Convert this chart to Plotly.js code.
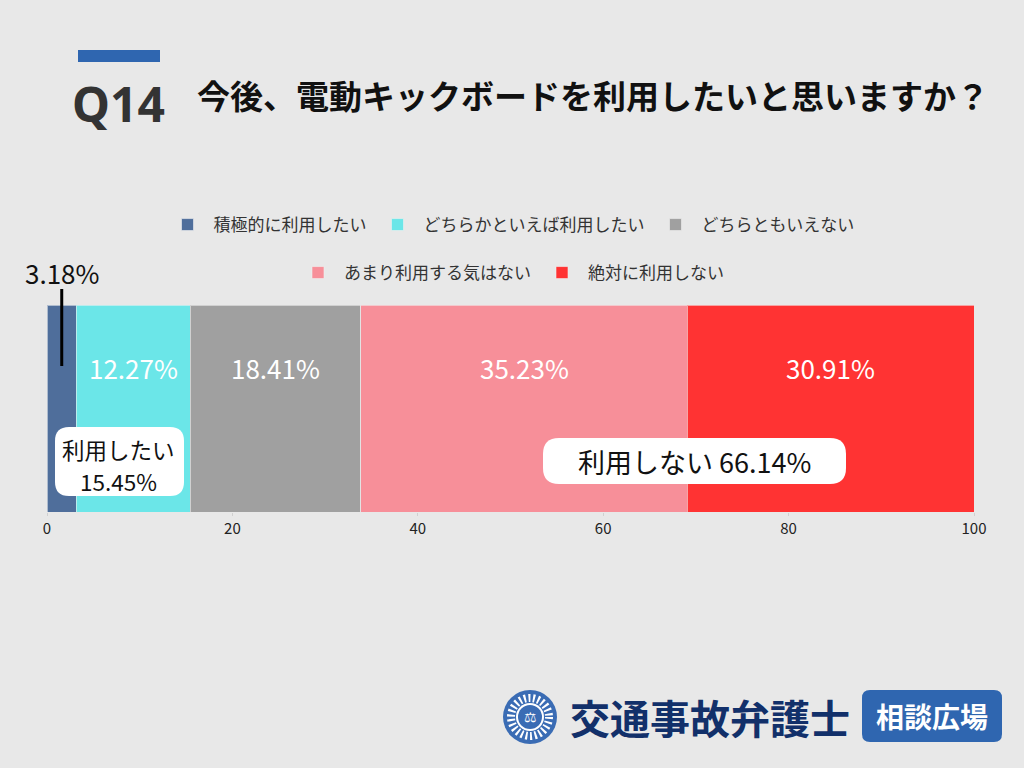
<!DOCTYPE html>
<html>
<head>
<meta charset="utf-8">
<script src="https://cdn.plot.ly/plotly-3.0.1.min.js"></script>
<style>html,body{margin:0;padding:0;background:#e8e8e8;}#chart{width:1024px;height:768px;}</style>
</head>
<body>
<div id="chart"></div>
<script>
// ---- data ----
const categories = ['積極的に利用したい', 'どちらかといえば利用したい', 'どちらともいえない', 'あまり利用する気はない', '絶対に利用しない'];
const values = [3.18, 12.27, 18.41, 35.23, 30.91];
const rowLabel = ['Q14'];
const tickValues = [0, 20, 40, 60, 80, 100];
const questionNo = 'Q14';
const questionText = '今後、電動キックボードを利用したいと思いますか？';
const wantLabel = '利用したい';
const notLabel = '利用しない';
const brandName = '交通事故弁護士';
const brandTag = '相談広場';

// ---- styles ----
const colors = ['#4f6e9b', '#6be6e8', '#a0a0a0', '#f78f99', '#ff3333'];
const FONT = '"Noto Sans CJK JP", "Noto Sans", sans-serif';
const ML = 47, MR = 50, MT = 305, MB = 256, W = 1024, H = 768;
const PW = W - ML - MR, PH = H - MT - MB;
const px = x => (x - ML) / PW;
const py = y => (H - MB - y) / PH;

const traces = categories.map((c, i) => ({
  type: 'bar', orientation: 'h', y: rowLabel, x: [values[i]], name: c,
  marker: {color: colors[i], line: {color: 'rgba(240,240,240,0.6)', width: 1}},
  legend: i < 3 ? 'legend' : 'legend2',
  hoverinfo: 'name+x'
}));

const cum = [];
values.reduce((s, v, i) => { cum[i] = s; return s + v; }, 0);
const wantTotal = (values[0] + values[1]).toFixed(2);
const notTotal = (values[3] + values[4]).toFixed(2);

function ann(o) { return Object.assign({showarrow: false, xanchor: 'center', yanchor: 'middle'}, o); }

const annotations = [];
// value labels inside segments 2..5
for (let i = 1; i < values.length; i++) {
  annotations.push(ann({x: cum[i] + values[i] / 2, y: py(367), xref: 'x', yref: 'paper',
    text: values[i].toFixed(2) + '%',
    font: {family: FONT, size: 26, color: '#ffffff'}}));
}
// first segment label (outside, above)
annotations.push(ann({x: values[0] / 2, y: py(272), xref: 'x', yref: 'paper',
  text: values[0].toFixed(2) + '%',
  font: {family: FONT, size: 26, color: '#111111'}}));
// group boxes
annotations.push(ann({x: px(118), y: py(449), xref: 'paper', yref: 'paper',
  text: wantLabel, font: {family: FONT, size: 22.5, color: '#111111'}}));
annotations.push(ann({x: px(118), y: py(481), xref: 'paper', yref: 'paper',
  text: wantTotal + '%', font: {family: FONT, size: 22.5, color: '#111111'}}));
annotations.push(ann({x: px(694), y: py(461), xref: 'paper', yref: 'paper',
  text: notLabel + ' ' + notTotal + '%',
  font: {family: FONT, size: 27, color: '#111111'}}));
// Q number
annotations.push(ann({x: px(118), y: py(104), xref: 'paper', yref: 'paper',
  text: '<b>' + questionNo + '</b>',
  font: {family: '"Noto Sans", "Open Sans", sans-serif', size: 48, color: '#333333'}}));
// brand
annotations.push(ann({x: px(710), y: py(717), xref: 'paper', yref: 'paper',
  text: '<b>' + brandName + '</b>',
  font: {family: FONT, size: 40, color: '#12306a'}}));
annotations.push(ann({x: px(932), y: py(716), xref: 'paper', yref: 'paper',
  text: '<b>' + brandTag + '</b>',
  font: {family: FONT, size: 28, color: '#ffffff'}}));
annotations.push(ann({x: px(530), y: py(717), xref: 'paper', yref: 'paper',
  text: '⚖',
  font: {family: '"DejaVu Sans", sans-serif', size: 14, color: '#ffffff'}}));

function roundRect(x0, y0, x1, y1, r) {
  const X = px, Y = py;
  return 'M' + X(x0 + r) + ',' + Y(y0) +
    ' L' + X(x1 - r) + ',' + Y(y0) + ' Q' + X(x1) + ',' + Y(y0) + ' ' + X(x1) + ',' + Y(y0 + r) +
    ' L' + X(x1) + ',' + Y(y1 - r) + ' Q' + X(x1) + ',' + Y(y1) + ' ' + X(x1 - r) + ',' + Y(y1) +
    ' L' + X(x0 + r) + ',' + Y(y1) + ' Q' + X(x0) + ',' + Y(y1) + ' ' + X(x0) + ',' + Y(y1 - r) +
    ' L' + X(x0) + ',' + Y(y0 + r) + ' Q' + X(x0) + ',' + Y(y0) + ' ' + X(x0 + r) + ',' + Y(y0) + ' Z';
}
function circ(cx, cy, r, fill, line) {
  return {type: 'circle', xref: 'paper', yref: 'paper', x0: px(cx - r), x1: px(cx + r),
    y0: py(cy + r), y1: py(cy - r), fillcolor: fill, line: line || {width: 0}, layer: 'above'};
}

const shapes = [
  // title accent bar
  {type: 'rect', xref: 'paper', yref: 'paper', x0: px(78), x1: px(160), y0: py(62), y1: py(50),
    fillcolor: '#2f66b0', line: {width: 0}},
  // leader line for first segment
  {type: 'line', xref: 'x', yref: 'paper', x0: values[0] / 2, x1: values[0] / 2, y0: py(289), y1: py(366),
    line: {color: '#000000', width: 3}, layer: 'above'},
  // rounded label boxes
  {type: 'path', xref: 'paper', yref: 'paper', path: roundRect(55, 427, 184, 496, 14),
    fillcolor: '#ffffff', line: {width: 0}, layer: 'above'},
  {type: 'path', xref: 'paper', yref: 'paper', path: roundRect(543, 438, 846, 484, 16),
    fillcolor: '#ffffff', line: {width: 0}, layer: 'above'},
  // brand tag box
  {type: 'path', xref: 'paper', yref: 'paper', path: roundRect(862, 690, 1002, 742, 8),
    fillcolor: '#2f66b0', line: {width: 0}, layer: 'above'},
  // emblem
  circ(530, 717, 27, '#3a6cb4'),
  circ(530, 717, 19, 'rgba(0,0,0,0)', {color: '#ffffff', width: 8, dash: '2px,2.6px'}),
  circ(530, 717, 14, '#ffffff'),
  circ(530, 717, 12, '#3a6cb4')
];

const legendBase = {orientation: 'h', x: 0.5, xanchor: 'center', yanchor: 'middle', itemwidth: 42,
  font: {family: FONT, size: 17, color: '#333333'}, bgcolor: 'rgba(0,0,0,0)', traceorder: 'normal'};

const layout = {
  width: W, height: H,
  paper_bgcolor: '#e8e8e8', plot_bgcolor: '#e8e8e8',
  margin: {l: ML, r: MR, t: MT, b: MB, pad: 0},
  title: {text: '<b>' + questionText + '</b>', x: 197 / W, xanchor: 'left', y: 1 - 97 / H, yanchor: 'middle',
    font: {family: FONT, size: 33, color: '#111111'}},
  barmode: 'stack', bargap: 0,
  showlegend: true,
  legend: Object.assign({}, legendBase, {y: py(225)}),
  legend2: Object.assign({}, legendBase, {y: py(273)}),
  xaxis: {range: [0, 100], tickvals: tickValues, ticktext: tickValues.map(String),
    showgrid: false, zeroline: false, showline: false, ticks: 'outside', ticklen: 3, tickcolor: '#d0d0d0',
    tickfont: {family: FONT, size: 15, color: '#222222'}, fixedrange: true},
  yaxis: {range: [-0.5, 0.5], visible: false, fixedrange: true},
  annotations: annotations,
  shapes: shapes
};

Plotly.newPlot('chart', traces, layout, {displayModeBar: false, staticPlot: true});
</script>
</body>
</html>
